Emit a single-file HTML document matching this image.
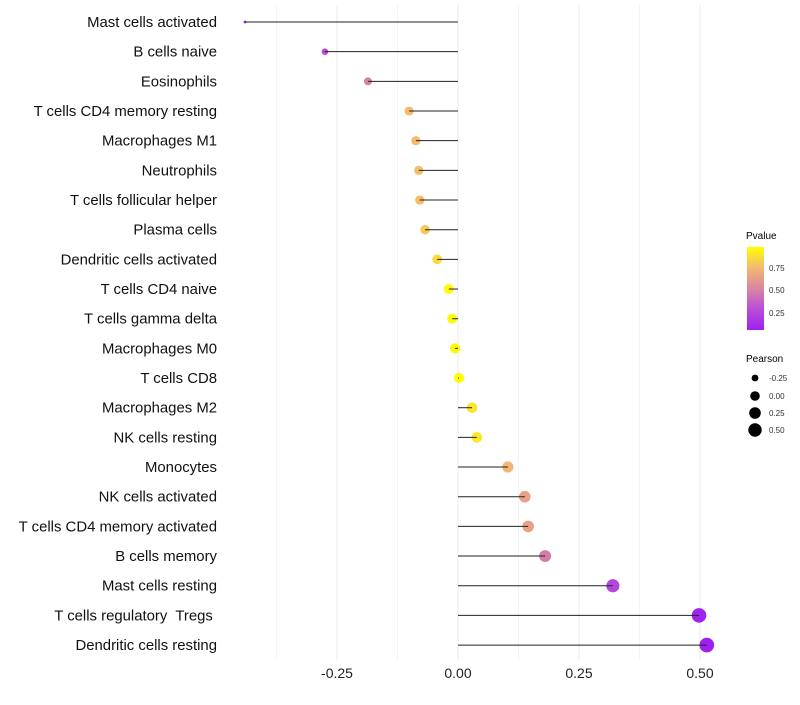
<!DOCTYPE html>
<html><head><meta charset="utf-8"><style>
body{margin:0;background:#fff;font-family:"Liberation Sans",sans-serif;}
svg text{font-family:"Liberation Sans",sans-serif;white-space:pre;}
</style></head><body>
<svg id="chart" width="800" height="700" xmlns="http://www.w3.org/2000/svg">
<g id="grid"></g>
<g id="marks"></g>
<g id="ylabels"></g>
<g id="xlabels"></g>
<g id="legend">
<defs><linearGradient id="pg" x1="0" y1="1" x2="0" y2="0">
<stop offset="0" stop-color="#a020f0"/><stop offset="0.3" stop-color="#c057d0"/><stop offset="0.5" stop-color="#d9869f"/><stop offset="0.75" stop-color="#f3b873"/><stop offset="1" stop-color="#ffff00"/></linearGradient></defs>
<text x="746" y="239" font-size="10" fill="#000">Pvalue</text>
<rect x="747" y="247" width="17" height="83" fill="url(#pg)"/>
<text x="769" y="271" font-size="8" fill="#333">0.75</text>
<text x="769" y="293" font-size="8" fill="#333">0.50</text>
<text x="769" y="316" font-size="8" fill="#333">0.25</text>
<text x="746" y="362" font-size="10" fill="#000">Pearson</text>
<circle cx="755" cy="378" r="3.4" fill="#000"/>
<circle cx="755" cy="396" r="4.8" fill="#000"/>
<circle cx="755" cy="413" r="5.8" fill="#000"/>
<circle cx="755" cy="430" r="6.7" fill="#000"/>
<text x="769" y="381" font-size="8" fill="#333">-0.25</text>
<text x="769" y="399" font-size="8" fill="#333">0.00</text>
<text x="769" y="416" font-size="8" fill="#333">0.25</text>
<text x="769" y="433" font-size="8" fill="#333">0.50</text>
</g>
</svg>
<script>
const categories=["Mast cells activated","B cells naive","Eosinophils","T cells CD4 memory resting","Macrophages M1","Neutrophils","T cells follicular helper","Plasma cells","Dendritic cells activated","T cells CD4 naive","T cells gamma delta","Macrophages M0","T cells CD8","Macrophages M2","NK cells resting","Monocytes","NK cells activated","T cells CD4 memory activated","B cells memory","Mast cells resting","T cells regulatory  Tregs ","Dendritic cells resting"];
const pearson=[-0.44,-0.275,-0.186,-0.101,-0.087,-0.081,-0.079,-0.068,-0.043,-0.019,-0.012,-0.006,0.002,0.029,0.039,0.103,0.138,0.145,0.18,0.32,0.498,0.514];
const pvalues=[0.06,0.25,0.48,0.76,0.76,0.77,0.77,0.8,0.86,0.97,0.97,0.97,0.98,0.9,0.9,0.74,0.64,0.64,0.46,0.22,0.07,0.06];
const xTicks=[-0.25,0,0.25,0.5];
const xTickLabels=["-0.25","0.00","0.25","0.50"];
const NS="http://www.w3.org/2000/svg";
const x=v=>458+v*484;
const y=i=>22+i*29.67;
const pMin=Math.min(...pearson),pMax=Math.max(...pearson);
const r=v=>Math.sqrt(2+(v-pMin)/(pMax-pMin)*52);
const stops=[[0.06,[160,32,240]],[0.3,[192,87,208]],[0.5,[217,134,159]],[0.75,[243,184,115]],[0.98,[255,255,0]]];
function col(p){p=Math.max(0.06,Math.min(0.98,p));for(let k=1;k<stops.length;k++){if(p<=stops[k][0]){const a=stops[k-1],b=stops[k],t=(p-a[0])/(b[0]-a[0]);return "rgb("+a[1].map((c,j)=>Math.round(c+(b[1][j]-c)*t)).join(",")+")";}}return "rgb(255,255,0)";}
function el(t,a,p){const e=document.createElementNS(NS,t);for(const k in a)e.setAttribute(k,a[k]);p.appendChild(e);return e;}
const grid=document.getElementById('grid'),marks=document.getElementById('marks'),yl=document.getElementById('ylabels'),xl=document.getElementById('xlabels');
for(let g=-0.375;g<=0.5001;g+=0.125){const l=el('line',{x1:x(g),x2:x(g),y1:5,y2:660,stroke:Math.abs(g*4-Math.round(g*4))<1e-6?'#ebebeb':'#f4f4f4','stroke-width':1},grid);

}
categories.forEach((c,i)=>{
const pt=el('circle',{cx:x(pearson[i]),cy:y(i),r:r(pearson[i]),fill:col(pvalues[i])},marks);


const s=el('line',{x1:x(0),x2:x(pearson[i]),y1:y(i),y2:y(i),stroke:'#222','stroke-width':1},marks);


const t=el('text',{x:217,y:y(i)+5,'text-anchor':'end','font-size':14.9,fill:'#111'},yl);t.textContent=c;


});
xTicks.forEach((v,i)=>{const t=el('text',{x:x(v),y:678,'text-anchor':'middle','font-size':14,fill:'#222'},xl);t.textContent=xTickLabels[i];

});
</script>
</body></html>
